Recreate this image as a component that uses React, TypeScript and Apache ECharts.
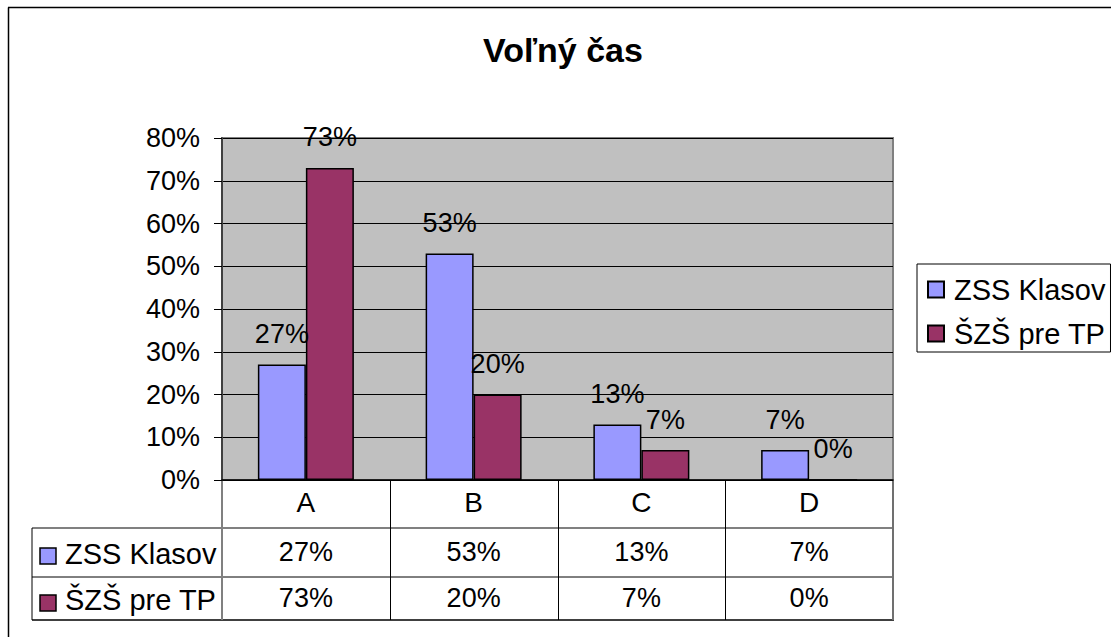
import React, { useEffect, useRef } from "react";
import * as echarts from "echarts";

const title = "Voľný čas";
const categories = ["A", "B", "C", "D"];
const seriesNames = ["ZSS Klasov", "ŠZŠ pre TP"];
const zssValues = [27, 53, 13, 7];
const szsValues = [73, 20, 7, 0];
const seriesColors = ["#9999FF", "#993366"];
const yMin = 0;
const yMax = 80;
const yInterval = 10;

const FONT = '"Liberation Sans", Arial, sans-serif';
const GRID_LEFT = 222;
const GRID_TOP = 138;
const GRID_W = 671;
const GRID_H = 342;
const TABLE_LEFT = 32;
const ROW_LINES = [480, 528, 577, 620];
const VALUE_ROW_CENTERS = [552, 597.5];
const NAME_ROW_CENTERS = [554, 600];
const MARKER_CENTERS = [556, 603];

export default function App() {
  const ref = useRef<HTMLDivElement>(null);

  useEffect(() => {
    if (!ref.current) return;
    const chart = echarts.init(ref.current, null, { renderer: "svg" });
    const allValues = [zssValues, szsValues];
    const colW = GRID_W / categories.length;
    const gridBottom = GRID_TOP + GRID_H;
    const gridRight = GRID_LEFT + GRID_W;

    const graphic: any[] = [];
    // outer chart border (left/top visible)
    graphic.push({ type: "line", shape: { x1: 8.5, y1: 7.5, x2: 8.5, y2: 637 }, style: { stroke: "#000", lineWidth: 1.5 } });
    graphic.push({ type: "line", shape: { x1: 8, y1: 7.5, x2: 1111, y2: 7.5 }, style: { stroke: "#000", lineWidth: 1.5 } });

    // data table horizontal lines
    graphic.push({ type: "line", shape: { x1: TABLE_LEFT, y1: ROW_LINES[1], x2: gridRight, y2: ROW_LINES[1] }, style: { stroke: "#808080", lineWidth: 2 } });
    graphic.push({ type: "line", shape: { x1: TABLE_LEFT, y1: ROW_LINES[2], x2: gridRight, y2: ROW_LINES[2] }, style: { stroke: "#000", lineWidth: 1 } });
    graphic.push({ type: "line", shape: { x1: TABLE_LEFT, y1: ROW_LINES[3], x2: gridRight + 1, y2: ROW_LINES[3] }, style: { stroke: "#000", lineWidth: 1.5 } });
    // vertical lines
    graphic.push({ type: "line", shape: { x1: TABLE_LEFT, y1: ROW_LINES[1], x2: TABLE_LEFT, y2: ROW_LINES[3] }, style: { stroke: "#000", lineWidth: 1 } });
    graphic.push({ type: "line", shape: { x1: GRID_LEFT, y1: gridBottom, x2: GRID_LEFT, y2: ROW_LINES[3] }, style: { stroke: "#808080", lineWidth: 2 } });
    for (let i = 1; i < categories.length; i++) {
      const x = Math.round(GRID_LEFT + colW * i) + 0.5;
      graphic.push({ type: "line", shape: { x1: x, y1: gridBottom, x2: x, y2: ROW_LINES[3] }, style: { stroke: "#000", lineWidth: 1 } });
    }
    graphic.push({ type: "line", shape: { x1: gridRight, y1: gridBottom, x2: gridRight, y2: ROW_LINES[3] }, style: { stroke: "#707070", lineWidth: 2 } });

    // table values
    allValues.forEach((vals, r) => {
      vals.forEach((v, i) => {
        graphic.push({
          type: "text",
          x: GRID_LEFT + colW * (i + 0.5),
          y: VALUE_ROW_CENTERS[r],
          style: { text: v + "%", fontSize: 27, fontFamily: FONT, fill: "#000", align: "center", verticalAlign: "middle" },
        });
      });
      graphic.push({
        type: "rect",
        shape: { x: 40, y: MARKER_CENTERS[r] - 8, width: 16, height: 16 },
        style: { fill: seriesColors[r], stroke: "#000", lineWidth: 1.5 },
      });
      graphic.push({
        type: "text",
        x: 65,
        y: NAME_ROW_CENTERS[r],
        style: { text: seriesNames[r], fontSize: 29, fontFamily: FONT, fill: "#000", align: "left", verticalAlign: "middle" },
      });
    });

    chart.setOption({
      animation: false,
      title: {
        text: title,
        left: 563,
        top: 33,
        textAlign: "center",
        padding: 0,
        textStyle: { fontSize: 34, fontWeight: "bold", fontFamily: FONT, color: "#000" },
      },
      legend: {
        orient: "vertical",
        left: 917,
        top: 264,
        itemWidth: 16,
        itemHeight: 16,
        itemGap: 15,
        padding: [11, 5, 4, 10],
        borderColor: "#000",
        borderWidth: 1,
        backgroundColor: "#fff",
        icon: "rect",
        selectedMode: false,
        textStyle: { fontSize: 29, color: "#000", fontFamily: FONT, padding: [0, 0, 0, 5] },
        data: seriesNames,
      },
      grid: {
        left: GRID_LEFT,
        top: GRID_TOP,
        width: GRID_W,
        height: GRID_H,
        show: true,
        backgroundColor: "#C0C0C0",
        borderColor: "#808080",
        borderWidth: 2,
      },
      xAxis: {
        type: "category",
        data: categories,
        axisTick: { show: false },
        axisLine: { lineStyle: { color: "#000", width: 1.5 } },
        axisLabel: { fontSize: 28, color: "#000", margin: 8, fontFamily: FONT },
      },
      yAxis: {
        type: "value",
        min: yMin,
        max: yMax,
        interval: yInterval,
        axisLabel: { formatter: "{value}%", fontSize: 27, color: "#000", margin: 22, fontFamily: FONT },
        axisLine: { show: true, lineStyle: { color: "#404040", width: 2 } },
        axisTick: { show: true, length: 8, lineStyle: { color: "#000", width: 1 } },
        splitLine: { show: true, lineStyle: { color: "#000", width: 1 } },
      },
      series: allValues.map((vals, r) => ({
        type: "bar",
        name: seriesNames[r],
        data: vals,
        barWidth: 48,
        barGap: "0%",
        silent: true,
        itemStyle: { color: seriesColors[r], borderColor: "#000", borderWidth: 1.5 },
        label: {
          show: true,
          position: "top",
          distance: 17,
          formatter: "{c}%",
          fontSize: 27,
          color: "#000",
          fontFamily: FONT,
        },
      })),
      graphic,
    });
    return () => chart.dispose();
  }, []);

  return (
    <div
      ref={ref}
      style={{ position: "fixed", left: 0, top: 0, width: 1111, height: 637, background: "#fff" }}
    />
  );
}
